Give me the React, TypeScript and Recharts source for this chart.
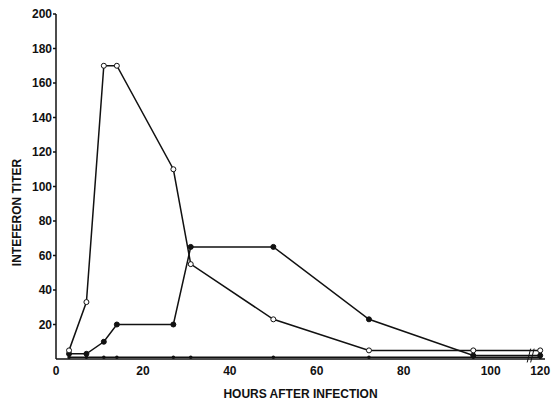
import React from "react";
import {
  LineChart,
  Line,
  XAxis,
  YAxis,
  ReferenceLine,
} from "recharts";

// hours after infection (axis is broken between 100 and 120)
const hours = [3, 7, 11, 14, 27, 31, 50, 72, 96, 120];
const openTiter = [5, 33, 170, 170, 110, 55, 23, 5, 5, 5];
const filledTiter = [3, 3, 10, 20, 20, 65, 65, 23, 2, 2];
const baseTiter = [1, 1, 1, 1, 1, 1, 1, 1, 1, 1];

const xTickHours = [0, 20, 40, 60, 80, 100, 120];
const yTicks = [20, 40, 60, 80, 100, 120, 140, 160, 180, 200];

// past 100 h the axis is compressed (broken axis)
function axisPos(h: number) {
  return h <= 100 ? h : 100 + (h - 100) * 0.57;
}

const data = hours.map((h, i) => ({
  pos: axisPos(h),
  open: openTiter[i],
  filled: filledTiter[i],
  base: baseTiter[i],
}));

const INK = "#111";
const FONT = "'Liberation Sans', Arial, sans-serif";

export default function App() {
  const tickStyle = { fill: INK, fontFamily: FONT, fontSize: 12, fontWeight: 700 };
  return (
    <div style={{ position: "absolute", left: 0, top: 0, background: "#fff" }}>
      <LineChart
        width={551}
        height={402}
        data={data}
        margin={{ top: 14, right: 6, bottom: 0, left: 0 }}
      >
        <XAxis
          type="number"
          dataKey="pos"
          domain={[0, 112.5]}
          ticks={xTickHours.map(axisPos)}
          interval={0}
          tickFormatter={(v, i) => String(xTickHours[i])}
          height={43}
          tick={tickStyle}
          tickLine={false}
          tickSize={4}
          tickMargin={3}
          stroke={INK}
          strokeWidth={1.5}
          label={{
            value: "HOURS AFTER INFECTION",
            position: "insideBottom",
            offset: 4,
            style: { fill: INK, fontFamily: FONT, fontSize: 12, fontWeight: 700 },
          }}
        />
        <YAxis
          type="number"
          domain={[0, 200]}
          ticks={yTicks}
          interval={0}
          width={56}
          tick={tickStyle}
          tickSize={3}
          tickMargin={1}
          stroke={INK}
          strokeWidth={1.5}
          label={{
            value: "INTEFERON TITER",
            angle: -90,
            position: "insideLeft",
            dx: 12,
            dy: 26,
            style: {
              fill: INK,
              fontFamily: FONT,
              fontSize: 12,
              fontWeight: 700,
              textAnchor: "middle",
            },
          }}
        />
        {/* axis break marks */}
        <ReferenceLine
          segment={[{ x: 108.4, y: -2 }, { x: 109.2, y: 6 }]}
          stroke={INK}
          strokeWidth={1}
          ifOverflow="visible"
        />
        <ReferenceLine
          segment={[{ x: 109.2, y: -2 }, { x: 110, y: 6 }]}
          stroke={INK}
          strokeWidth={1}
          ifOverflow="visible"
        />
        <Line
          type="linear"
          dataKey="base"
          stroke={INK}
          strokeWidth={1.5}
          dot={{ r: 1, fill: INK, stroke: INK }}
          isAnimationActive={false}
        />
        <Line
          type="linear"
          dataKey="filled"
          stroke={INK}
          strokeWidth={1.5}
          dot={{ r: 2.5, fill: INK, stroke: INK, strokeWidth: 1 }}
          isAnimationActive={false}
        />
        <Line
          type="linear"
          dataKey="open"
          stroke={INK}
          strokeWidth={1.5}
          dot={{ r: 2.5, fill: "#fff", stroke: INK, strokeWidth: 1 }}
          isAnimationActive={false}
        />
      </LineChart>
    </div>
  );
}
